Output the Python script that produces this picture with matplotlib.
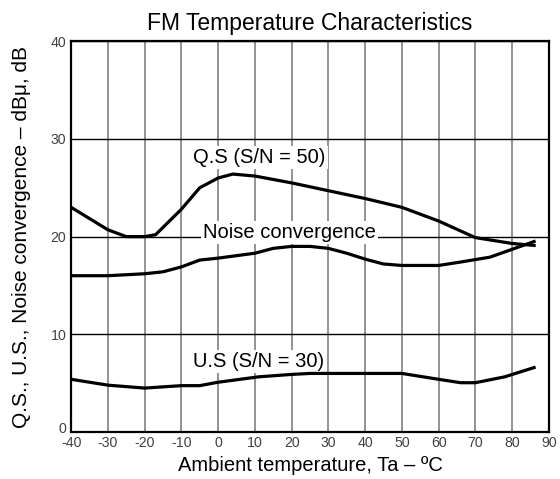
import matplotlib
matplotlib.use("Agg")
import matplotlib.pyplot as plt
from matplotlib.transforms import ScaledTranslation

plt.rcParams['font.family'] = ['Liberation Sans', 'DejaVu Sans']
plt.rcParams['axes.unicode_minus'] = False

# data
qs_temp = [-40, -30, -25, -20, -17, -10, -5, 0, 4, 10, 20, 30, 40, 50, 60, 70, 80, 86]
qs_db = [23.0, 20.7, 20.0, 20.0, 20.2, 22.8, 25.0, 26.0, 26.4, 26.2, 25.5, 24.7, 23.9, 23.0, 21.6, 19.9, 19.3, 19.1]

noise_temp = [-40, -30, -20, -15, -10, -5, 0, 10, 15, 20, 25, 30, 35, 40, 45, 50, 60, 66, 74, 80, 86]
noise_db = [16.0, 16.0, 16.2, 16.4, 16.9, 17.6, 17.8, 18.3, 18.8, 19.0, 19.0, 18.8, 18.3, 17.7, 17.2, 17.05, 17.05, 17.4, 17.9, 18.7, 19.5]

us_temp = [-40, -30, -20, -10, -5, 0, 11, 20, 25, 30, 50, 60, 66, 70, 78, 86]
us_db = [5.4, 4.8, 4.5, 4.75, 4.75, 5.1, 5.65, 5.9, 6.0, 6.0, 6.0, 5.4, 5.05, 5.05, 5.65, 6.6]

x_ticks = list(range(-40, 91, 10))
y_ticks = [0, 10, 20, 30, 40]

fig = plt.figure(figsize=(5.6, 4.79), dpi=100)
ax = fig.add_axes([0.127, 0.098, 0.853, 0.816])

for t in x_ticks:
    ax.axvline(t, color='#808080', linewidth=1.2, zorder=1)
for v in y_ticks:
    ax.axhline(v, color='black', linewidth=1.0, zorder=1)

ax.plot(qs_temp, qs_db, color='black', linewidth=2.3, zorder=3)
ax.plot(noise_temp, noise_db, color='black', linewidth=2.3, zorder=3)
ax.plot(us_temp, us_db, color='black', linewidth=2.3, zorder=3)

box = dict(facecolor='white', edgecolor='none', pad=1.5)
ax.text(-6.8, 28.1, "Q.S (S/N = 50)", fontsize=14.5, va='center', ha='left', bbox=box, zorder=2)
ax.text(-4.1, 20.4, "Noise convergence", fontsize=14.5, va='center', ha='left', bbox=box, zorder=2)
ax.text(-6.8, 7.2, "U.S (S/N = 30)", fontsize=14.5, va='center', ha='left', bbox=box, zorder=2)

ax.set_xlim(-40, 90)
ax.set_ylim(0, 40)
ax.set_xticks(x_ticks)
ax.set_yticks(y_ticks)
ax.tick_params(length=0, labelsize=10.2, labelcolor='#404040')
ax.tick_params(axis='x', pad=2.5)
ax.tick_params(axis='y', pad=3.5)
for s in ax.spines.values():
    s.set_linewidth(1.6)
    s.set_zorder(4)

# the "0" label sits a little higher so it clears "-40"
lbl0 = ax.get_yticklabels()[0]
lbl0.set_transform(lbl0.get_transform() + ScaledTranslation(0, 3 / 72, fig.dpi_scale_trans))

ax.set_xlabel("Ambient temperature, Ta – ºC", fontsize=14.5, labelpad=5)
ax.set_ylabel("Q.S., U.S., Noise convergence – dBμ, dB", fontsize=15)
ax.yaxis.label.set_va('center')
ax.yaxis.set_label_coords(-0.104, 0.5)
ax.set_title("FM Temperature Characteristics", fontsize=16.5, pad=8)

fig.savefig("out.png", dpi=100)
